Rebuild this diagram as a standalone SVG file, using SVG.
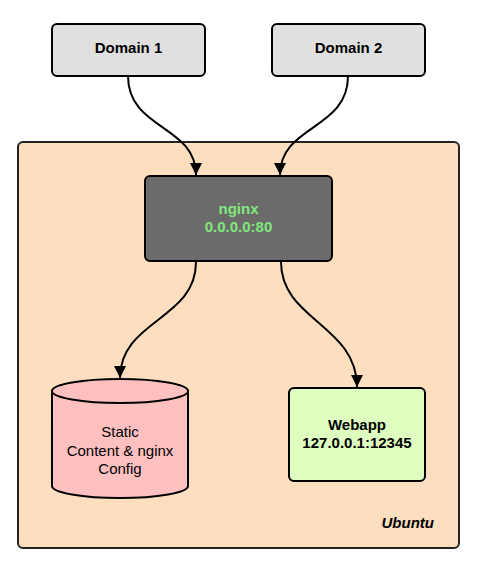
<svg xmlns="http://www.w3.org/2000/svg" width="480" height="569" viewBox="0 0 480 569">
<style>
.lbl{font-family:"Liberation Sans",Arial,sans-serif;font-size:15px;text-anchor:middle;fill:#000}
.b{font-weight:bold}
.edge{fill:none;stroke:#000;stroke-width:2}
.box{stroke:#000;stroke-width:2}
</style>
<defs>
<marker id="arr" viewBox="0 0 10 10" refX="10" refY="5" markerWidth="6" markerHeight="6" orient="auto" markerUnits="strokeWidth">
<path d="M0,0 L10,5 L0,10 z" fill="#000"/>
</marker>
</defs>
<rect x="0" y="0" width="480" height="569" fill="#fff"/>
<g id="ubuntu">
<rect x="18" y="142" width="441" height="406" rx="5" fill="#fddfc0" stroke="#222" stroke-width="2"/>
<text class="lbl b" x="434" y="528" font-style="italic" style="text-anchor:end">Ubuntu</text>
</g>
<g id="domain1">
<rect class="box" x="52" y="24" width="153" height="52" rx="5" fill="#e0e0e0"/>
<text class="lbl b" x="128.5" y="52.5">Domain 1</text>
</g>
<g id="domain2">
<rect class="box" x="272" y="24" width="153" height="52" rx="5" fill="#e0e0e0"/>
<text class="lbl b" x="348.5" y="52.5">Domain 2</text>
</g>
<g id="nginx">
<rect class="box" x="145" y="176" width="187" height="85" rx="5" fill="#6b6b6b"/>
<text class="lbl b" x="238.5" y="213.5" style="fill:#80e87c">nginx</text>
<text class="lbl b" x="238.5" y="231.5" style="fill:#80e87c">0.0.0.0:80</text>
</g>
<g id="static">
<path d="M52,391 A68,12 0 0 1 188,391 L188,486 A68,12 0 0 1 52,486 Z" fill="#ffc0c0" stroke="#000" stroke-width="2"/>
<path d="M52,391 A68,12 0 0 0 188,391" fill="none" stroke="#000" stroke-width="2"/>
<text class="lbl" x="120" y="437">Static</text>
<text class="lbl" x="120" y="455.5">Content &amp; nginx</text>
<text class="lbl" x="120" y="474">Config</text>
</g>
<g id="webapp">
<rect class="box" x="289" y="388" width="136" height="93" rx="5" fill="#dfffc0"/>
<text class="lbl b" x="357" y="429.5">Webapp</text>
<text class="lbl b" x="357" y="447.5">127.0.0.1:12345</text>
</g>
<g id="connectors">
<path class="edge" d="M128,76 C128,130 196,125 196,175" marker-end="url(#arr)"/>
<path class="edge" d="M348,76 C348,130 280,125 280,175" marker-end="url(#arr)"/>
<path class="edge" d="M196,262 C196,320 120,320 120,378" marker-end="url(#arr)"/>
<path class="edge" d="M281,262 C281,320 357,325 357,387" marker-end="url(#arr)"/>
</g>
</svg>
